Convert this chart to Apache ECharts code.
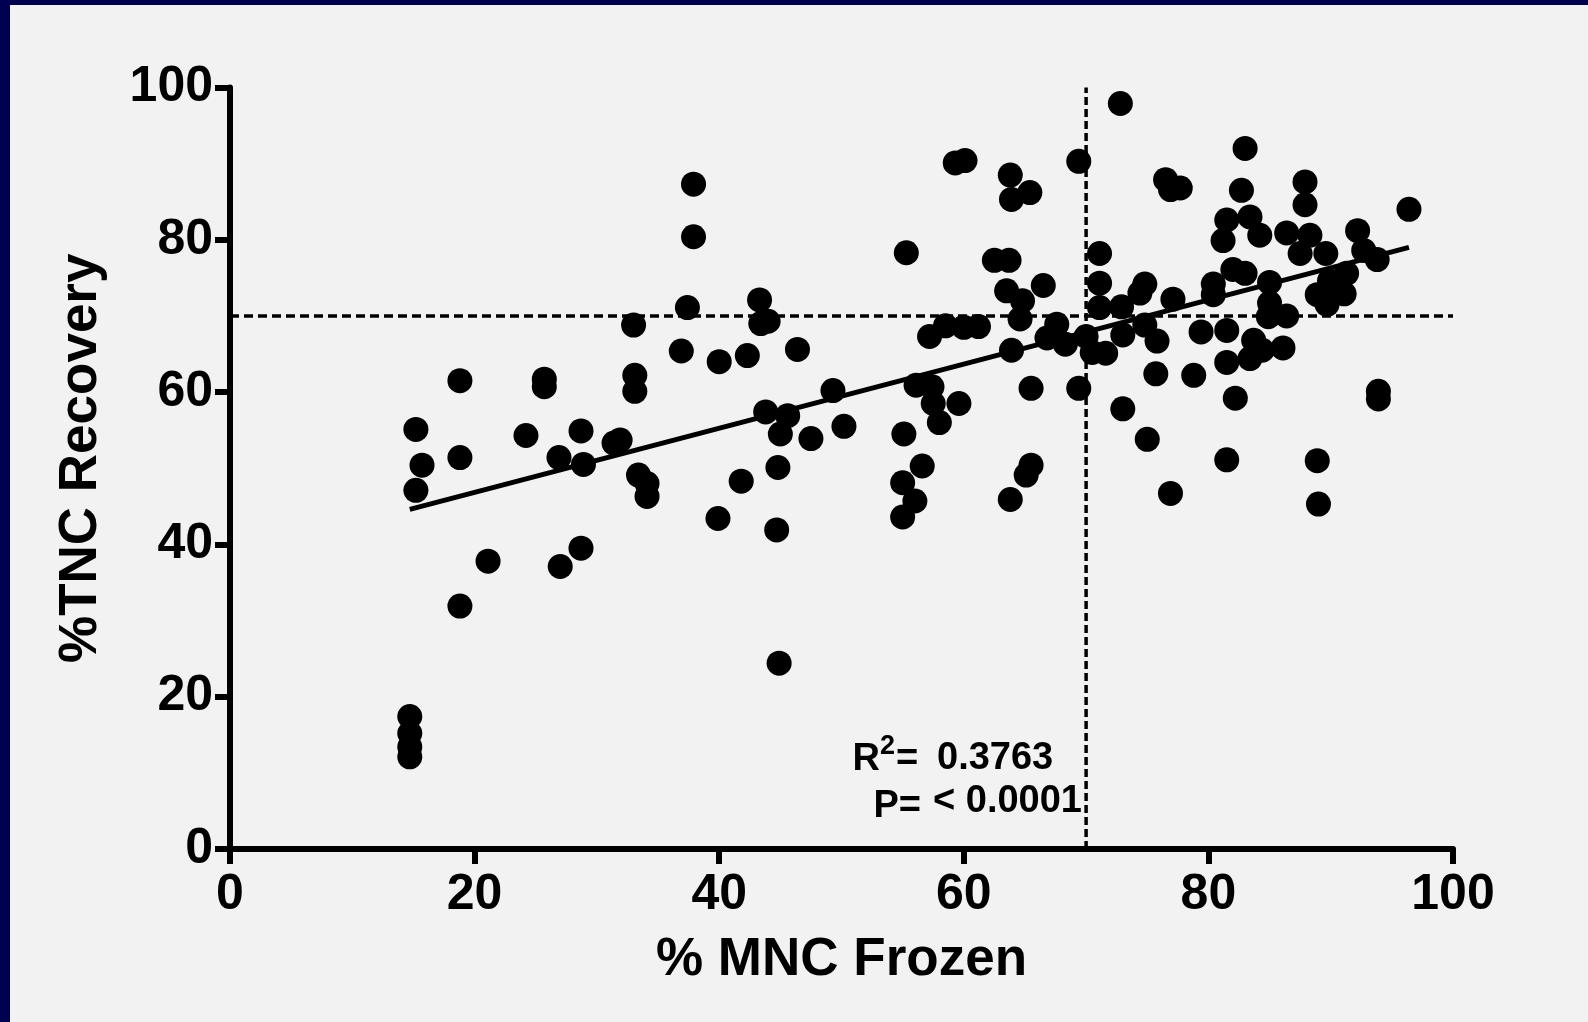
<!DOCTYPE html>
<html lang="en">
<head>
  <meta charset="utf-8" />
  <title>% MNC Frozen vs %TNC Recovery</title>
  <script src="https://cdn.jsdelivr.net/npm/echarts@6/dist/echarts.min.js"></script>
  <style>
    html, body { margin: 0; height: 100%; background: #000050; overflow: hidden; }
    #chart { position: absolute; left: 10px; top: 5px; width: 1578px; height: 1017px; background: #f2f2f2; }
  </style>
</head>
<body>
<div id="chart"></div>
<script>
  // % MNC frozen (x) and % TNC recovery (y), same order
  const mncFrozen = [
    14.7, 14.7, 14.7, 14.7, 15.2, 15.7, 15.2, 18.8, 18.8, 18.8, 21.1, 24.2, 25.7, 25.7, 26.9, 27.0,
    28.7, 28.9, 28.7, 31.4, 31.9, 33.0, 33.1, 33.1, 33.4, 34.1, 34.1, 36.9, 37.4, 37.9, 37.9,
    40.0, 39.9, 41.8, 42.3, 43.3, 43.4, 44.0, 43.8, 45.6, 45.0, 44.8, 44.7, 44.9, 46.4, 47.5, 49.3, 50.2,
    55.3, 55.1, 55.0, 55.0, 56.0, 56.6, 56.1, 57.4, 57.5, 59.6, 58.0, 57.2, 58.5, 60.0, 61.2, 59.3, 60.1,
    62.5, 63.7, 63.8, 63.9, 65.4, 63.5, 64.8, 66.5, 64.6, 63.9, 65.5, 65.5, 65.1, 63.8,
    66.8, 67.6, 68.3, 69.4, 69.4, 70.0, 70.5, 71.6, 71.1, 71.1, 71.1, 72.9, 73.0, 73.0, 72.8,
    74.8, 74.4, 74.8, 75.8, 75.7, 75.0, 76.9, 76.5, 76.9, 77.7, 77.1, 78.8, 79.4, 80.4, 80.4,
    81.2, 81.5, 83.4, 83.0, 82.7, 84.2, 82.0, 83.0, 81.5, 81.5, 82.2, 81.5,
    83.7, 83.4, 84.4, 85.0, 85.0, 84.9, 86.1, 86.4, 86.4, 87.9, 87.9, 88.3, 87.5, 89.6,
    88.9, 89.7, 91.1, 91.3, 89.9, 92.2, 92.7, 93.8, 96.4, 93.9, 93.9, 88.9, 89.0
  ];
  const tncRecovery = [
    17.4, 15.2, 13.4, 12.1, 55.1, 50.4, 47.1, 61.5, 51.4, 31.9, 37.8, 54.3, 61.7, 60.7, 51.4, 37.1,
    54.9, 50.5, 39.5, 53.3, 53.7, 68.8, 62.2, 60.1, 49.1, 48.0, 46.3, 65.4, 71.1, 87.3, 80.4,
    64.0, 43.4, 48.3, 64.8, 72.1, 69.0, 69.3, 57.4, 56.9, 54.5, 50.1, 41.9, 24.4, 65.6, 53.9, 60.2, 55.5,
    78.3, 54.5, 48.1, 43.6, 45.7, 50.3, 60.9, 60.7, 58.5, 58.5, 56.0, 67.3, 68.7, 68.5, 68.6, 90.1, 90.4,
    77.3, 77.3, 88.5, 85.3, 86.2, 73.3, 72.0, 74.0, 69.6, 65.5, 60.5, 50.4, 49.1, 45.9,
    67.1, 68.9, 66.3, 90.3, 60.5, 67.3, 65.2, 65.1, 78.2, 74.3, 71.1, 71.2, 67.5, 57.8, 97.9,
    74.2, 73.0, 68.8, 66.7, 62.4, 53.8, 46.7, 87.9, 86.6, 86.8, 72.2, 62.2, 67.9, 74.2, 72.8,
    79.9, 82.6, 83.0, 92.0, 86.5, 80.6, 76.1, 75.6, 68.1, 63.9, 59.2, 51.1,
    66.8, 64.4, 65.5, 74.4, 71.7, 69.9, 65.8, 70.0, 80.9, 87.6, 84.6, 80.6, 78.2, 78.2,
    72.8, 71.5, 72.9, 75.6, 74.6, 81.2, 78.6, 77.4, 84.0, 60.1, 59.1, 51.0, 45.3
  ];
  // fitted line as drawn (start, end)
  const fitLine = [[14.7, 44.6], [96.4, 79.0]];
  // cut-off lines at 70 %
  const cutoffX = 70;
  const cutoffY = 70;
  const rSquared = '0.3763';
  const pValue = '< 0.0001';

  const font = "'Liberation Sans', Arial, Helvetica, sans-serif";
  const points = mncFrozen.map((x, i) => [x, tncRecovery[i]]);

  const chart = echarts.init(document.getElementById('chart'));

  const axisCommon = {
    type: 'value',
    min: 0,
    max: 100,
    interval: 20,
    splitLine: { show: false },
    axisLine: { show: true, lineStyle: { color: '#000', width: 6, cap: 'round' } },
    axisTick: { show: true, length: 15, lineStyle: { color: '#000', width: 6 } },
    nameLocation: 'middle',
    nameTextStyle: { color: '#000', fontSize: 53, fontWeight: 'bold', fontFamily: font }
  };

  // annotation text, positions in chart-div pixels
  function label(text, x, y, align, size) {
    return {
      type: 'text', x: x, y: y,
      style: { text: text, align: align, verticalAlign: 'middle', fill: '#000', font: 'bold ' + (size || 38) + 'px ' + font }
    };
  }

  chart.setOption({
    animation: false,
    backgroundColor: '#f2f2f2',
    grid: { left: 220, right: 135, top: 82.5, bottom: 173 },
    xAxis: Object.assign({}, axisCommon, {
      name: '% MNC Frozen',
      nameGap: 85,
      axisLabel: { color: '#000', fontSize: 50, fontWeight: 'bold', fontFamily: font, margin: 21 }
    }),
    yAxis: Object.assign({}, axisCommon, {
      name: '%TNC Recovery',
      nameGap: 122,
      nameRotate: 90,
      nameTextStyle: Object.assign({}, axisCommon.nameTextStyle, { padding: [0, 0, 0, 20] }),
      axisLabel: { color: '#000', fontSize: 50, fontWeight: 'bold', fontFamily: font, margin: 17 }
    }),
    series: [
      {
        type: 'line',
        data: [[0, cutoffY], [100, cutoffY]],
        symbol: 'none',
        lineStyle: { color: '#000', width: 3.5, type: [9, 5] },
        z: 1
      },
      {
        type: 'line',
        data: [[cutoffX, 0], [cutoffX, 100]],
        symbol: 'none',
        lineStyle: { color: '#000', width: 3.5, type: [8, 4] },
        z: 1
      },
      {
        type: 'scatter',
        data: points,
        symbol: 'circle',
        symbolSize: 25,
        itemStyle: { color: '#000', opacity: 1 },
        z: 2
      },
      {
        type: 'line',
        data: fitLine,
        symbol: 'none',
        lineStyle: { color: '#000', width: 5 },
        z: 3
      }
    ],
    graphic: [
      label('R', 870, 755, 'right'),
      label('2', 870, 742, 'left', 27),
      label('=', 886, 755, 'left'),
      label('P=', 911, 802, 'right'),
      label(rSquared, 927, 754, 'left'),
      label(pValue, 923, 797, 'left')
    ]
  });

  window.addEventListener('resize', () => chart.resize());
</script>
</body>
</html>
